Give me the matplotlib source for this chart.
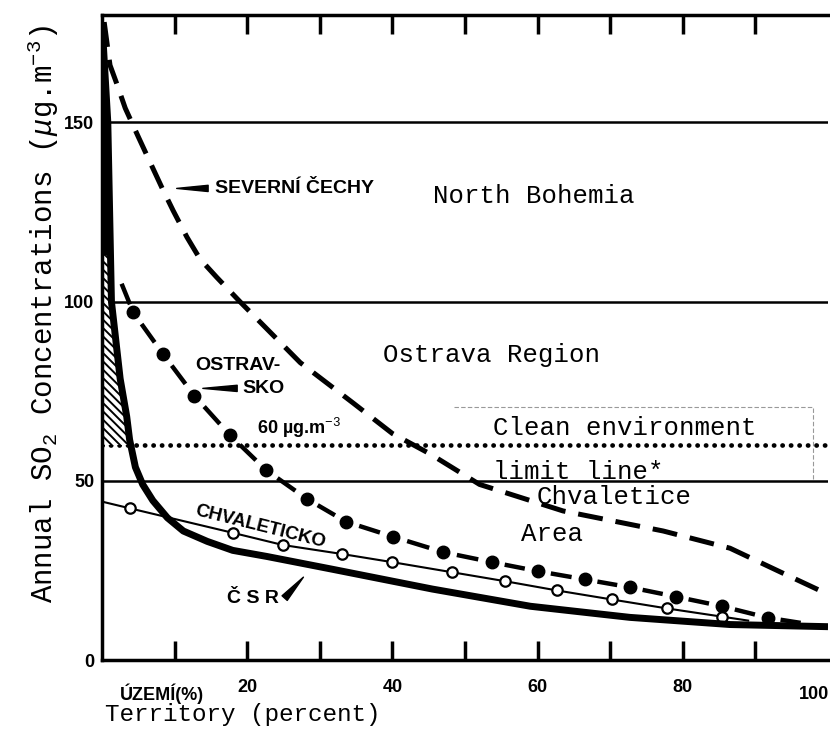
import matplotlib
matplotlib.use("Agg")
import matplotlib.pyplot as plt
from matplotlib import font_manager
import numpy as np

plt.rcParams['mathtext.fontset'] = 'custom'
plt.rcParams['mathtext.rm'] = 'Liberation Mono'
plt.rcParams['mathtext.it'] = 'Liberation Mono:italic'
plt.rcParams['hatch.linewidth'] = 1.4

names = {f.name for f in font_manager.fontManager.ttflist}
MONO = ['Liberation Mono', 'DejaVu Sans Mono']
if 'Liberation Sans Narrow' in names:
    BOLD = ['Liberation Sans Narrow', 'DejaVu Sans']
else:
    BOLD = ['Liberation Sans', 'DejaVu Sans']

# --- data ---
csr_x = [0, 0.8, 1.3, 2.5, 3.4, 3.8, 4.6, 5.6, 7.0, 9.0, 11.2, 14.5, 18, 22.7, 31.8, 45.5, 59, 72.7, 86.5, 100]
csr_y = [178, 150, 100, 78.5, 68, 61.5, 53.8, 49, 44.5, 39.7, 36, 33.1, 30.6, 28.9, 25.3, 19.8, 15, 11.9, 9.9, 9.3]

nb_x = [0.3, 1.1, 2.0, 3.2, 5.0, 6.6, 8.3, 9.8, 11.7, 13.5, 15.8, 19, 27.3, 34.6, 40, 45.2, 52, 63.5, 77.3, 86.5, 93.4, 99.3]
nb_y = [178, 166, 161, 154, 146, 139, 131.6, 125.4, 118, 111.9, 106.8, 100, 83, 71.7, 63.2, 57.5, 49, 41.6, 36, 31.2, 24.6, 19]

ostr_x = [2.7, 4.3, 8.4, 12.7, 17.6, 22.6, 28.2, 33.6, 40.1, 47.0, 53.7, 60.0, 66.5, 72.7, 79.0, 85.4, 91.7, 98]
ostr_y = [105, 97, 85.4, 73.8, 62.8, 53, 45, 38.6, 34.4, 30.1, 27.3, 24.8, 22.5, 20.3, 17.7, 15, 11.8, 9.8]

chv_x = [0, 3.9, 18, 24.9, 33, 40, 48.2, 55.5, 62.7, 70.2, 77.8, 85.4, 89]
chv_y = [44.2, 42.3, 35.5, 32.1, 29.6, 27.3, 24.5, 22, 19.4, 16.9, 14.4, 12.1, 11]

limit_60 = 60
grid_levels = [50, 100, 150]
xticks = [20, 40, 60, 80, 100]
yticks = [0, 50, 100, 150]

fig = plt.figure(figsize=(8.3, 7.34), dpi=100)
ax = fig.add_axes([0.1229, 0.1008, 0.8747, 0.8788])
ax.set_xlim(0, 100)
ax.set_ylim(0, 180)

for g in grid_levels:
    ax.axhline(g, color='k', lw=1.8, zorder=1)
ax.plot([0, 100], [limit_60, limit_60], color='k', lw=3.4,
        dashes=(0.05, 1.75), dash_capstyle='round', zorder=1)

# hatched / filled wedge between the axis and the CSR curve
cx = np.array(csr_x)[::-1]
cy = np.array(csr_y)[::-1]
yy = np.linspace(60, 113, 60)
ax.fill_betweenx(yy, 0, np.interp(yy, cy, cx), facecolor='white',
                 edgecolor='k', hatch='\\\\\\\\', lw=0, zorder=2)
yy2 = np.linspace(113, 178, 40)
ax.fill_betweenx(yy2, 0, np.interp(yy2, cy, cx), color='k', lw=0, zorder=2)

ax.plot(nb_x, nb_y, color='k', lw=3.6, dashes=(5, 2.6), zorder=3)

# Ostrava: dot - dash - dot
ox = np.array(ostr_x)
oy = np.array(ostr_y)
for i in range(len(ox) - 1):
    f0 = 0.0 if i == 0 else 0.28
    f1 = 0.72
    ax.plot([ox[i] + f0 * (ox[i + 1] - ox[i]), ox[i] + f1 * (ox[i + 1] - ox[i])],
            [oy[i] + f0 * (oy[i + 1] - oy[i]), oy[i] + f1 * (oy[i + 1] - oy[i])],
            color='k', lw=3.2, solid_capstyle='butt', zorder=3)
ax.plot(ostr_x[1:-1], ostr_y[1:-1], 'o', color='k', ms=9, zorder=4)

ax.plot(chv_x, chv_y, color='k', lw=1.5, marker='o', ms=7.5, mfc='white',
        mec='k', mew=1.6, markevery=list(range(1, 12)), zorder=4)
ax.plot(csr_x, csr_y, color='k', lw=5, solid_capstyle='butt',
        solid_joinstyle='round', zorder=5)

# axes frame and ticks
for s in ['left', 'bottom', 'top']:
    ax.spines[s].set_linewidth(2.5)
ax.spines['right'].set_visible(False)
ax.set_xticks(range(10, 100, 10))
ax.set_xticklabels(['' if t not in xticks else str(t) for t in range(10, 100, 10)])
ax.tick_params(axis='x', direction='in', length=14, width=2.5, top=True, pad=14)
ax.set_yticks(yticks)
ax.set_yticklabels([str(t) for t in yticks])
ax.tick_params(axis='y', length=0, pad=5.5)
for lab in ax.get_xticklabels() + ax.get_yticklabels():
    lab.set_family(BOLD)
    lab.set_fontweight('bold')
    lab.set_fontsize(13)
ax.text(100.2, -9.5, '100', ha='right', va='center', family=BOLD,
        fontweight='bold', fontsize=13, clip_on=False)
ax.text(2.5, -9.5, 'ÚZEMÍ(%)', ha='left', va='center', family=BOLD,
        fontweight='bold', fontsize=13, clip_on=False)

# typewriter annotations
ax.text(45.6, 129.6, 'North Bohemia', family=MONO, fontsize=18.5, va='center')
ax.text(38.7, 85, 'Ostrava Region', family=MONO, fontsize=18.5, va='center')
ax.text(53.9, 64.7, 'Clean environment', family=MONO, fontsize=18.5, va='center')
ax.text(53.9, 52.4, 'limit line*', family=MONO, fontsize=18.5, va='center')
ax.text(59.9, 45.4, 'Chvaletice', family=MONO, fontsize=18.5, va='center')
ax.text(57.7, 35.1, 'Area', family=MONO, fontsize=18.5, va='center')
ax.plot([48.5, 98, 98], [70.5, 70.5, 50.5], color='0.6', lw=0.8, dashes=(4, 2))

# bold labels with wedge arrows
ax.text(15.6, 131.6, 'SEVERNÍ ČECHY', family=BOLD, fontweight='bold',
        fontsize=14, va='center')
ax.annotate('', xy=(9.9, 131.6), xytext=(15.0, 131.6),
            arrowprops=dict(arrowstyle='wedge,tail_width=0.45', fc='k', ec='k'))
ax.text(12.8, 82.2, 'OSTRAV-', family=BOLD, fontweight='bold', fontsize=14, va='center')
ax.text(19.4, 75.8, 'SKO', family=BOLD, fontweight='bold', fontsize=14, va='center')
ax.annotate('', xy=(13.5, 75.8), xytext=(19.0, 75.8),
            arrowprops=dict(arrowstyle='wedge,tail_width=0.45', fc='k', ec='k'))
ax.text(21.3, 64.7, '60 µg.m$^{-3}$', family=BOLD, fontweight='bold',
        fontsize=13, va='center')
ax.text(21.8, 37.3, 'CHVALETICKO', family=BOLD, fontweight='bold', fontsize=13.5,
        va='center', ha='center', rotation=-14)
ax.text(17.2, 17.3, 'Č S R', family=BOLD, fontweight='bold', fontsize=14, va='center')
ax.annotate('', xy=(28, 23.7), xytext=(24.9, 16.7),
            arrowprops=dict(arrowstyle='wedge,tail_width=0.5', fc='k', ec='k'))

fig.text(105 / 830, 1 - 715 / 734, 'Territory (percent)', family=MONO,
         fontsize=17.5, ha='left', va='center')
fig.text(43 / 830, 1 - 314 / 734,
         r'Annual SO$_2$ Concentrations ($\mu$g.m$^{-3}$)', family=MONO,
         fontsize=21, rotation=90, ha='center', va='center')

fig.savefig('out.png', dpi=100)
